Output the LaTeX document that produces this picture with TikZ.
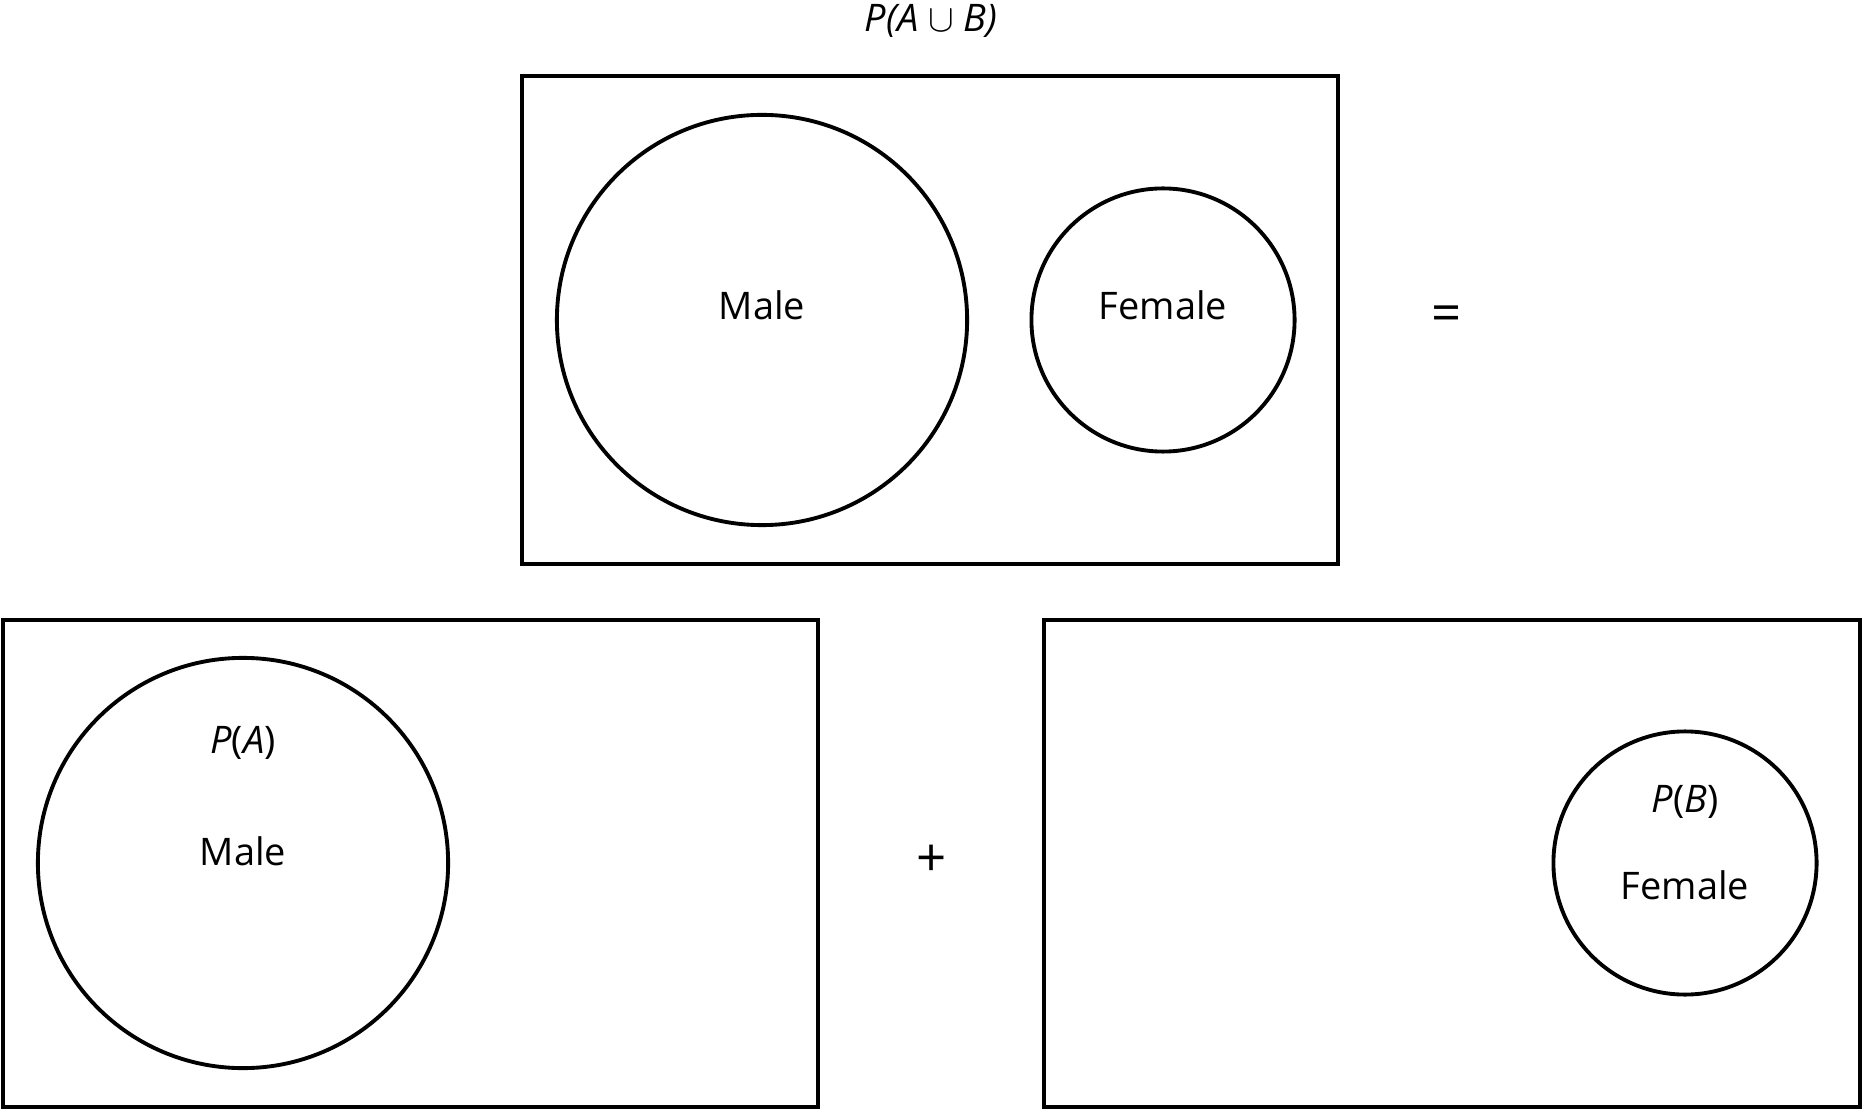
\documentclass[tikz,border=0pt]{standalone}
\usepackage{fontspec}
\setmainfont{Open Sans}
\begin{document}
\begin{tikzpicture}[x=0.01cm,y=-0.01cm]
  \useasboundingbox (0,0) rectangle (1864,1110);
  \begin{scope}[every node/.style={draw=black, line width=1.1pt, inner sep=0pt}]
    \node[rectangle, minimum width=8.16cm, minimum height=4.88cm] (union) at (930,320) {};
    \node[rectangle, minimum width=8.15cm, minimum height=4.87cm] (boxA) at (410.5,863.5) {};
    \node[rectangle, minimum width=8.16cm, minimum height=4.87cm] (boxB) at (1452,863.5) {};
    \node[circle, minimum size=4.1cm] (male) at (762,320) {};
    \node[circle, minimum size=2.63cm] (female) at (1163,320) {};
    \node[circle, minimum size=4.1cm] (maleA) at (243,863) {};
    \node[circle, minimum size=2.63cm] (femaleB) at (1685,863) {};
  \end{scope}
  \begin{scope}[every node/.style={anchor=base, font=\fontsize{10.8}{13}\selectfont}]
    \node[inner sep=0pt] (title) at (931,32) {\textit{P(A} $\cup$ \textit{B)}};
    \node (maletxt) at (male.center |- 0,320) {Male};
    \node (femaletxt) at (female.center |- 0,320) {Female};
    \node (pa) at (maleA.center |- 0,753) {\textit{P}(\textit{A})};
    \node (maleAtxt) at (maleA.center |- 0,865) {Male};
    \node (pb) at (femaleB.center |- 0,812) {\textit{P}(\textit{B})};
    \node (femaleBtxt) at (femaleB.center |- 0,899) {Female};
  \end{scope}
  \node[font=\fontsize{15}{18}\selectfont] (eq) at (1447,319) {=};
  \node[font=\fontsize{15}{18}\selectfont] (plus) at (932,861) {+};
\end{tikzpicture}
\end{document}
